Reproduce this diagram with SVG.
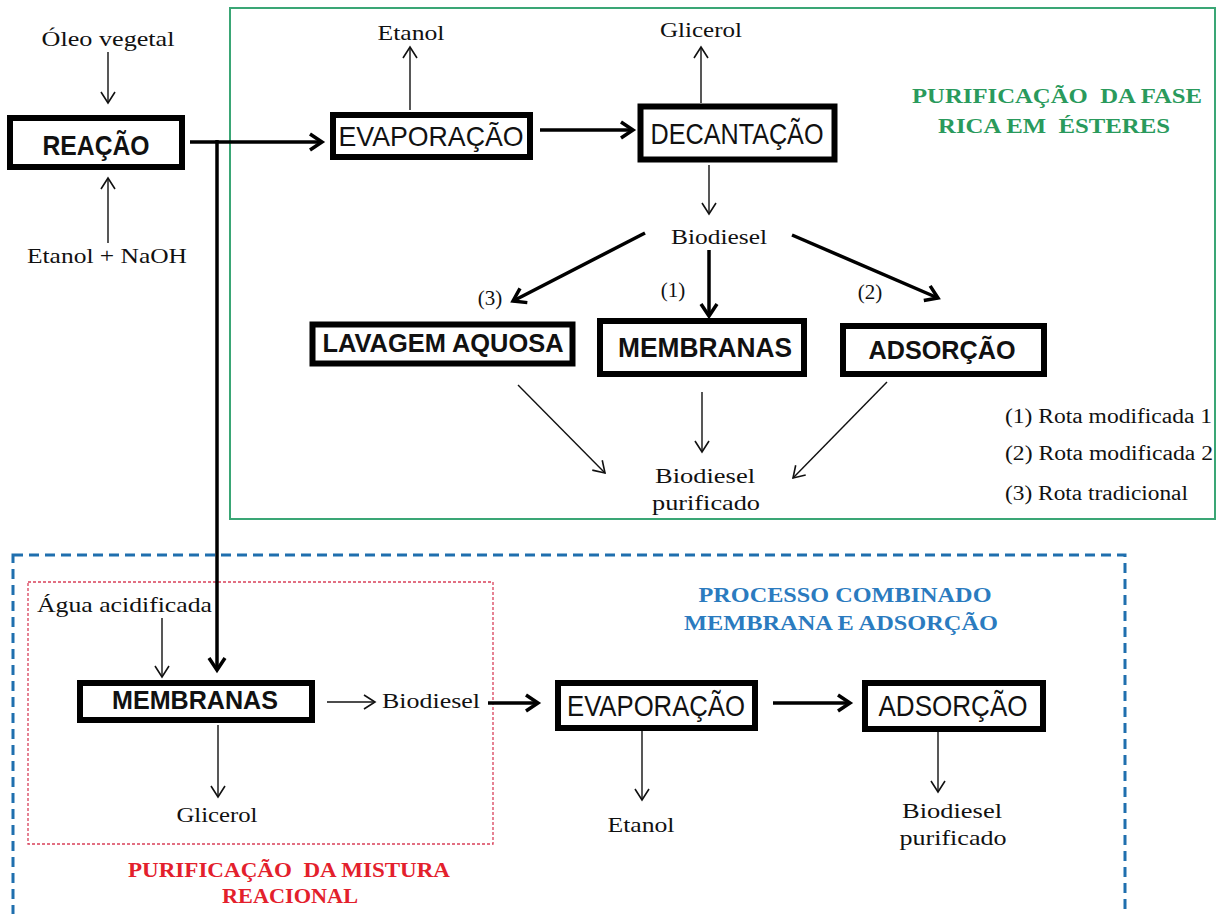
<svg xmlns="http://www.w3.org/2000/svg" width="1227" height="914" viewBox="0 0 1227 914">
<style>
.box{fill:#fff;stroke:#000;stroke-width:6}
.lbl{font-family:"Liberation Sans",Arial,sans-serif;fill:#111;text-anchor:middle}
.b{font-weight:bold}
.t{font-family:"Liberation Serif","Times New Roman",serif;font-size:21px;fill:#111;text-anchor:middle}
.t.s{text-anchor:start}
.thin{stroke:#111;stroke-width:1.4;fill:none;marker-end:url(#ah)}
.thick{stroke:#000;stroke-width:3.5;fill:none;marker-end:url(#ahb)}
.ttl{font-family:"Liberation Serif","Times New Roman",serif;font-weight:bold;font-size:21px;text-anchor:middle;white-space:pre}
</style>
<defs>
<marker id="ah" markerUnits="userSpaceOnUse" markerWidth="16" markerHeight="18" refX="12" refY="8" orient="auto">
<path d="M1,1 L12,8 L1,15" fill="none" stroke="#111" stroke-width="1.6"/>
</marker>
<marker id="ahb" markerUnits="userSpaceOnUse" markerWidth="18" markerHeight="22" refX="14" refY="10" orient="auto">
<path d="M2,2 L14,10 L2,18" fill="none" stroke="#000" stroke-width="3.5"/>
</marker>
</defs>
<rect width="1227" height="914" fill="#fff"/>

<g id="regions">
<rect x="230" y="8" width="985" height="511" fill="none" stroke="#3aa675" stroke-width="2"/>
<rect x="13" y="555" width="1112" height="380" fill="none" stroke="#1f6fae" stroke-width="3" stroke-dasharray="10 6"/>
<rect x="28" y="582" width="465" height="262" fill="none" stroke="#d9405a" stroke-width="1.3" stroke-dasharray="3 2"/>
<text class="ttl" fill="#2a9a5c"><tspan x="1057" y="103" textLength="290" lengthAdjust="spacingAndGlyphs">PURIFICAÇÃO  DA FASE</tspan><tspan x="1054" y="133" textLength="232" lengthAdjust="spacingAndGlyphs">RICA EM  ÉSTERES</tspan></text>
<text class="ttl" fill="#2b7bbf"><tspan x="845" y="602" textLength="293" lengthAdjust="spacingAndGlyphs">PROCESSO COMBINADO</tspan><tspan x="841" y="630" textLength="314" lengthAdjust="spacingAndGlyphs">MEMBRANA E ADSORÇÃO</tspan></text>
<text class="ttl" fill="#e3202c"><tspan x="289" y="877" textLength="322" lengthAdjust="spacingAndGlyphs">PURIFICAÇÃO  DA MISTURA</tspan><tspan x="290" y="903" textLength="136" lengthAdjust="spacingAndGlyphs">REACIONAL</tspan></text>
</g>

<g id="connectors">
<line class="thin" x1="108" y1="52" x2="108" y2="103"/>
<line class="thin" x1="108" y1="243" x2="108" y2="178"/>
<line x1="190" y1="142" x2="217" y2="142" stroke="#000" stroke-width="3.5"/>
<line class="thick" x1="217" y1="142" x2="322" y2="142"/>
<line class="thick" x1="217" y1="140" x2="217" y2="670"/>
<line class="thin" x1="410" y1="110" x2="410" y2="47"/>
<line class="thick" x1="540" y1="130" x2="633" y2="130"/>
<line class="thin" x1="701" y1="103" x2="701" y2="47"/>
<line class="thin" x1="709" y1="165" x2="709" y2="214"/>
<line class="thick" x1="645" y1="233" x2="513" y2="301"/>
<line class="thick" x1="709" y1="250" x2="709" y2="316"/>
<line class="thick" x1="792" y1="235" x2="938" y2="298"/>
<line class="thin" x1="518" y1="385" x2="605" y2="473"/>
<line class="thin" x1="702" y1="392" x2="702" y2="452"/>
<line class="thin" x1="887" y1="382" x2="793" y2="478"/>
<line class="thin" x1="162" y1="618" x2="162" y2="677"/>
<line class="thin" x1="327" y1="702" x2="375" y2="702"/>
<line class="thin" x1="218" y1="725" x2="218" y2="797"/>
<line class="thick" x1="488" y1="703" x2="538" y2="703"/>
<line class="thick" x1="773" y1="703" x2="850" y2="703"/>
<line class="thin" x1="642" y1="731" x2="642" y2="800"/>
<line class="thin" x1="938" y1="720" x2="938" y2="792"/>
</g>

<g id="n-reacao"><rect class="box" x="10" y="118" width="172" height="49"/><text class="lbl b" x="96" y="155" font-size="28" textLength="107" lengthAdjust="spacingAndGlyphs">REAÇÃO</text></g>
<g id="n-oleo"><text class="t" x="108" y="46" textLength="133" lengthAdjust="spacingAndGlyphs">Óleo vegetal</text></g>
<g id="n-etanol-naoh"><text class="t" x="107" y="263" textLength="160" lengthAdjust="spacingAndGlyphs">Etanol + NaOH</text></g>
<g id="n-evap1"><rect class="box" x="333" y="115" width="197" height="42"/><text class="lbl" x="431" y="146" font-size="28" textLength="185" lengthAdjust="spacingAndGlyphs">EVAPORAÇÃO</text></g>
<g id="n-etanol1"><text class="t" x="411" y="40" textLength="67" lengthAdjust="spacingAndGlyphs">Etanol</text></g>
<g id="n-decant"><rect class="box" x="640.5" y="106.5" width="194" height="53" stroke-width="7"/><text class="lbl" x="737" y="144" font-size="29" textLength="173" lengthAdjust="spacingAndGlyphs">DECANTAÇÃO</text></g>
<g id="n-glicerol1"><text class="t" x="701" y="37" textLength="82" lengthAdjust="spacingAndGlyphs">Glicerol</text></g>
<g id="n-biodiesel1"><text class="t" x="719" y="244" textLength="96" lengthAdjust="spacingAndGlyphs">Biodiesel</text></g>
<g id="n-labels"><text class="t" x="490" y="305">(3)</text><text class="t" x="673" y="297">(1)</text><text class="t" x="870" y="299">(2)</text></g>
<g id="n-lavagem"><rect class="box" x="312.5" y="324.5" width="260" height="39" stroke-width="5"/><text class="lbl b" x="443" y="352" font-size="26" textLength="241" lengthAdjust="spacingAndGlyphs">LAVAGEM AQUOSA</text></g>
<g id="n-membranas1"><rect class="box" x="600" y="321" width="204" height="53"/><text class="lbl b" x="705" y="357" font-size="27" textLength="174" lengthAdjust="spacingAndGlyphs">MEMBRANAS</text></g>
<g id="n-adsorcao1"><rect class="box" x="843" y="326" width="201" height="48"/><text class="lbl b" x="942" y="359" font-size="26" textLength="147" lengthAdjust="spacingAndGlyphs">ADSORÇÃO</text></g>
<g id="n-biodiesel-pur1"><text class="t" x="705" y="483" textLength="100" lengthAdjust="spacingAndGlyphs">Biodiesel</text><text class="t" x="706" y="510" textLength="108" lengthAdjust="spacingAndGlyphs">purificado</text></g>
<g id="n-legend" font-family="'Liberation Serif','Times New Roman',serif" font-size="20" fill="#111">
<text x="1005" y="423" textLength="207" lengthAdjust="spacingAndGlyphs">(1) Rota modificada 1</text>
<text x="1005" y="460" textLength="208" lengthAdjust="spacingAndGlyphs">(2) Rota modificada 2</text>
<text x="1005" y="500" textLength="183" lengthAdjust="spacingAndGlyphs">(3) Rota tradicional</text>
</g>
<g id="n-agua"><text class="t s" x="37" y="612" textLength="175" lengthAdjust="spacingAndGlyphs">Água acidificada</text></g>
<g id="n-membranas2"><rect class="box" x="80" y="683" width="232" height="37"/><text class="lbl b" x="195" y="709" font-size="26" textLength="166" lengthAdjust="spacingAndGlyphs">MEMBRANAS</text></g>
<g id="n-biodiesel2"><text class="t s" x="382" y="708" textLength="98" lengthAdjust="spacingAndGlyphs">Biodiesel</text></g>
<g id="n-glicerol2"><text class="t" x="217" y="822" textLength="81" lengthAdjust="spacingAndGlyphs">Glicerol</text></g>
<g id="n-evap2"><rect class="box" x="558" y="683" width="197" height="45"/><text class="lbl" x="656" y="716" font-size="30" textLength="178" lengthAdjust="spacingAndGlyphs">EVAPORAÇÃO</text></g>
<g id="n-etanol2"><text class="t" x="641" y="832" textLength="67" lengthAdjust="spacingAndGlyphs">Etanol</text></g>
<g id="n-adsorcao2"><rect class="box" x="865" y="683" width="178" height="46"/><text class="lbl" x="953" y="716" font-size="30" textLength="149" lengthAdjust="spacingAndGlyphs">ADSORÇÃO</text></g>
<g id="n-biodiesel-pur2"><text class="t" x="952" y="818" textLength="100" lengthAdjust="spacingAndGlyphs">Biodiesel</text><text class="t" x="953" y="845" textLength="107" lengthAdjust="spacingAndGlyphs">purificado</text></g>
</svg>
